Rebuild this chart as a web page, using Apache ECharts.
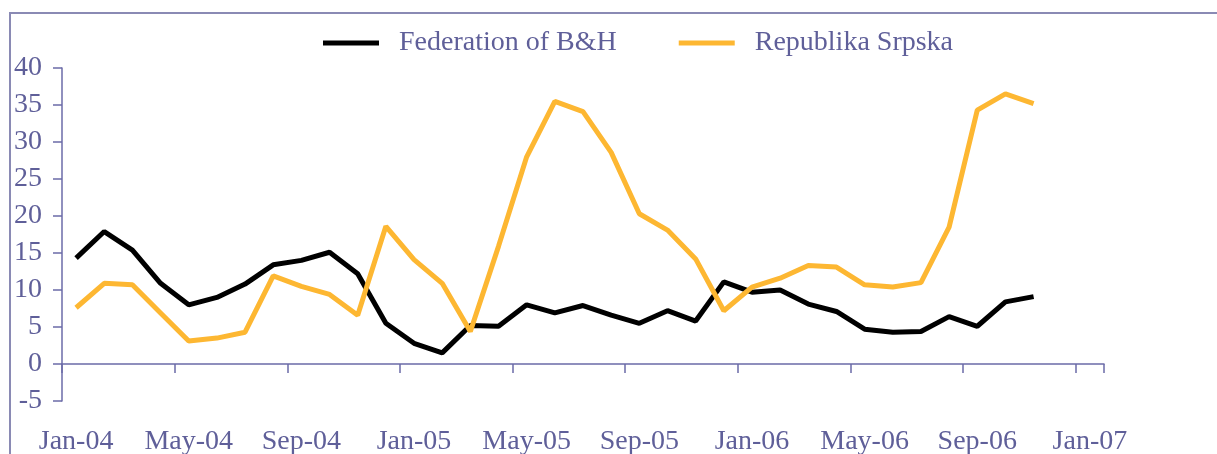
<!DOCTYPE html>
<html>
<head>
<meta charset="utf-8">
<script src="https://cdn.jsdelivr.net/npm/echarts@6/dist/echarts.min.js"></script>
<style>
  html, body { margin: 0; padding: 0; background: #fff; }
  #chart { width: 1217px; height: 454px; }
</style>
</head>
<body>
<div id="chart"></div>
<script>
const months = [
  "Jan-04", "Feb-04", "Mar-04", "Apr-04", "May-04", "Jun-04", "Jul-04", "Aug-04", "Sep-04", "Oct-04", "Nov-04", "Dec-04",
  "Jan-05", "Feb-05", "Mar-05", "Apr-05", "May-05", "Jun-05", "Jul-05", "Aug-05", "Sep-05", "Oct-05", "Nov-05", "Dec-05",
  "Jan-06", "Feb-06", "Mar-06", "Apr-06", "May-06", "Jun-06", "Jul-06", "Aug-06", "Sep-06", "Oct-06", "Nov-06", "Dec-06",
  "Jan-07"
];
const federation = [
  14.3, 17.9, 15.4, 10.9, 8.0, 9.0, 10.8, 13.4, 14.0, 15.1, 12.2, 5.5,
  2.8, 1.5, 5.2, 5.1, 8.0, 6.9, 7.9, 6.6, 5.5, 7.2, 5.8, 11.1,
  9.7, 10.0, 8.1, 7.1, 4.7, 4.3, 4.4, 6.4, 5.1, 8.4, 9.1
];
const srpska = [
  7.6, 10.9, 10.7, 6.9, 3.1, 3.5, 4.3, 11.9, 10.5, 9.4, 6.6, 18.6,
  14.1, 10.9, 4.4, 15.9, 28.0, 35.5, 34.1, 28.6, 20.3, 18.1, 14.2, 7.2,
  10.4, 11.6, 13.3, 13.1, 10.7, 10.4, 11.0, 18.5, 34.3, 36.5, 35.2
];

const textColor = "#5f5f99";
const axisColor = "#6b6ba8";
const font = "Liberation Serif";

const chart = echarts.init(document.getElementById("chart"));
const option = {
  animation: false,
  textStyle: { fontFamily: font },
  graphic: [
    {
      type: "rect",
      shape: { x: 10, y: 13, width: 1400, height: 600 },
      style: { fill: "none", stroke: "#8a8ab4", lineWidth: 2 },
      silent: true,
    },
  ],
  legend: {
    left: 318,
    top: 24,
    itemWidth: 56,
    itemHeight: 5,
    itemGap: 62,
    icon: "rect",
    textStyle: { color: textColor, fontSize: 28, fontFamily: font, padding: [0, 0, 0, 15] },
    data: ["Federation of B&H", "Republika Srpska"],
  },
  grid: { left: 62, right: 113, top: 68, bottom: 53, outerBoundsMode: "none", containLabel: false },
  xAxis: [
    {
      // labels only, at the bottom of the plot
      type: "category",
      data: months,
      boundaryGap: true,
      position: "bottom",
      axisLine: { show: false, onZero: false },
      axisTick: { show: false },
      axisLabel: { interval: 3, margin: 27, color: textColor, fontSize: 28, fontFamily: font },
      splitLine: { show: false },
    },
    {
      // visible axis line and ticks at zero
      type: "category",
      data: months,
      boundaryGap: true,
      position: "bottom",
      axisLine: { show: true, onZero: true, lineStyle: { color: axisColor, width: 1.5 } },
      axisTick: { show: true, interval: 3, length: 9, lineStyle: { color: axisColor, width: 1.5 } },
      axisLabel: { show: false },
      splitLine: { show: false },
    },
  ],
  yAxis: {
    type: "value",
    min: -5,
    max: 40,
    interval: 5,
    axisLine: { show: true, lineStyle: { color: axisColor, width: 1.5 } },
    axisTick: { show: true, length: 9, lineStyle: { color: axisColor, width: 1.5 } },
    axisLabel: { margin: 20, color: textColor, fontSize: 28, fontFamily: font },
    splitLine: { show: false },
  },
  series: [
    {
      name: "Federation of B&H",
      type: "line",
      data: federation,
      showSymbol: false,
      symbol: "none",
      color: "#000000",
      lineStyle: { width: 5, color: "#000000" },
    },
    {
      name: "Republika Srpska",
      type: "line",
      data: srpska,
      showSymbol: false,
      symbol: "none",
      color: "#fdb732",
      lineStyle: { width: 5, color: "#fdb732" },
    },
  ],
};
chart.setOption(option);
</script>
</body>
</html>
